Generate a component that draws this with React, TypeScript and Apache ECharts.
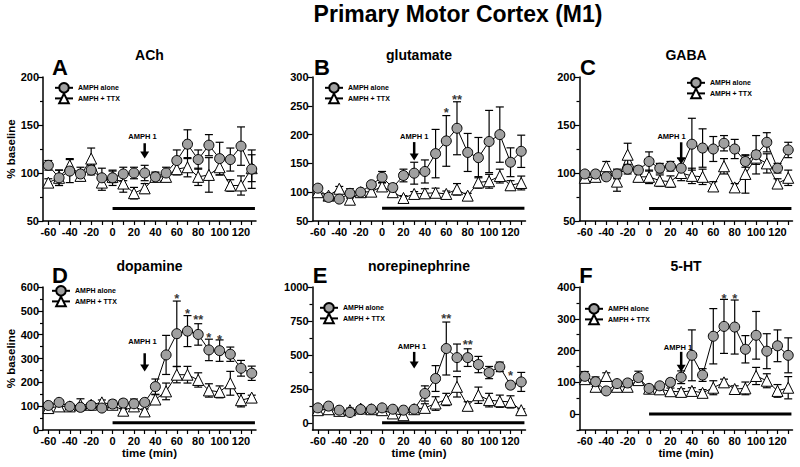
import React, { useEffect, useRef } from 'react';
import * as echarts from 'echarts';

const FONT = '"Liberation Sans", Arial, Helvetica, sans-serif';

const times = [-60, -50, -40, -30, -20, -10, 0, 10, 20, 30, 40, 50, 60, 70, 80, 90, 100, 110, 120, 130];
const xLabelValues = [-60, -40, -20, 0, 20, 40, 60, 80, 100, 120];
const xTickValues = [-60, -50, -40, -30, -20, -10, 0, 10, 20, 30, 40, 50, 60, 70, 80, 90, 100, 110, 120, 130];

// ACh
const achAlone = [108, 95, 102, 99, 103, 95, 95, 99, 100, 100, 96, 100, 113, 130, 114, 129, 115, 114, 128, 104];
const achAloneErr = [5, 8, 12, 7, 5, 10, 8, 7, 6, 8, 4, 6, 11, 15, 10, 11, 17, 12, 20, 20];
const achTtx = [90, 95, 108, 97, 115, 90, 96, 89, 79, 84, 96, 96, 104, 106, 96, 98, 106, 87, 87, 105];
const achTtxErr = [4, 8, 7, 5, 11, 8, 6, 9, 6, 5, 5, 5, 6, 10, 9, 18, 8, 6, 10, 14];

// glutamate
const gluAlone = [107, 91, 88, 98, 100, 113, 126, 108, 129, 133, 136, 167, 189, 211, 169, 160, 188, 200, 152, 171];
const gluAloneErr = [5, 4, 4, 8, 5, 5, 10, 6, 11, 19, 20, 42, 44, 46, 33, 35, 54, 48, 25, 28];
const gluTtx = [100, 94, 106, 87, 100, 101, 110, 100, 90, 97, 98, 99, 97, 105, 94, 117, 119, 128, 112, 116];
const gluTtxErr = [3, 3, 4, 8, 5, 5, 7, 5, 4, 4, 8, 8, 5, 10, 4, 10, 12, 12, 8, 12];

// GABA
const gabaAlone = [99, 99, 96, 99, 104, 103, 112, 105, 107, 105, 130, 126, 125, 131, 125, 112, 119, 132, 105, 124];
const gabaAloneErr = [3, 3, 3, 5, 5, 4, 10, 5, 5, 10, 27, 20, 13, 8, 10, 6, 20, 10, 5, 8];
const gabaTtx = [95, 96, 107, 91, 119, 96, 96, 92, 91, 100, 97, 96, 86, 107, 85, 99, 116, 110, 89, 95];
const gabaTtxErr = [3, 3, 5, 10, 12, 5, 7, 6, 6, 8, 8, 8, 5, 8, 4, 20, 7, 10, 5, 8];

// dopamine
const daAlone = [103, 116, 99, 95, 103, 92, 109, 113, 110, 116, 182, 315, 404, 415, 401, 336, 333, 318, 259, 238];
const daAloneErr = [10, 10, 10, 10, 10, 10, 15, 15, 20, 10, 32, 82, 137, 65, 45, 45, 45, 30, 33, 30];
const daTtx = [92, 99, 99, 106, 106, 116, 106, 81, 99, 78, 128, 162, 232, 232, 210, 166, 160, 196, 125, 136];
const daTtxErr = [10, 8, 8, 25, 8, 10, 10, 10, 10, 10, 20, 35, 34, 35, 30, 28, 25, 50, 28, 10];

// norepinephrine
const neAlone = [110, 123, 93, 76, 98, 100, 110, 100, 93, 100, 216, 326, 547, 480, 480, 429, 370, 412, 277, 301];
const neAloneErr = [20, 20, 20, 15, 15, 15, 20, 20, 20, 20, 56, 95, 195, 100, 65, 60, 45, 35, 20, 70];
const neTtx = [93, 100, 88, 93, 105, 100, 93, 69, 56, 100, 110, 142, 172, 265, 125, 203, 167, 159, 154, 93];
const neTtxErr = [15, 15, 15, 15, 15, 15, 15, 30, 30, 20, 30, 50, 45, 75, 30, 60, 50, 45, 45, 10];

// 5-HT
const htAlone = [119, 102, 73, 96, 98, 115, 81, 89, 100, 116, 185, 123, 245, 276, 274, 204, 248, 198, 215, 185];
const htAloneErr = [15, 15, 8, 10, 10, 20, 10, 10, 10, 20, 80, 20, 87, 85, 85, 43, 75, 55, 50, 55];
const htTtx = [110, 86, 120, 86, 86, 107, 80, 78, 72, 70, 73, 67, 83, 100, 79, 81, 120, 105, 73, 83];
const htTtxErr = [10, 10, 10, 10, 10, 10, 10, 10, 10, 10, 10, 10, 22, 10, 10, 20, 27, 22, 20, 35];

// significance marks [time, value, text]
const gluStars = [[60, 243, '*'], [70, 267, '**']];
const daStars = [[60, 565, '*'], [70, 503, '*'], [80, 475, '**'], [90, 401, '*'], [100, 391, '*']];
const neStars = [[60, 792, '**'], [80, 596, '**'], [120, 370, '*']];
const htStars = [[70, 374, '*'], [80, 374, '*']];

// treatment bar level (y value), from t=0 to t=133
const barLevels = [63, 72, 63, 30, 0, 0];
const barStart = 0;
const barEnd = 133;

// AMPH 1 annotation: [arrowTime, tipValue, topValue, textTime, textValue]
const amphNotes = [
  [30, 115, 131, 28, 138],
  [30, 155, 187, 30, 196],
  [30, 109, 132, 21, 138],
  [30, 245, 322, 28, 370],
  [30, 400, 522, 28, 559],
  [30, 133, 196, 27, 211],
];

const panelTitles = ['ACh', 'glutamate', 'GABA', 'dopamine', 'norepinephrine', '5-HT'];
const panelLetters = ['A', 'B', 'C', 'D', 'E', 'F'];

const yMin = [50, 50, 50, 0, -53, -50];
const yMax = [200, 300, 200, 600, 1000, 400];
const yLabelValues = [
  [50, 100, 150, 200],
  [50, 100, 150, 200, 250, 300],
  [50, 100, 150, 200],
  [0, 100, 200, 300, 400, 500, 600],
  [0, 250, 500, 750, 1000],
  [0, 100, 200, 300, 400],
];
const yMinorValues = [
  [75, 125, 175],
  [],
  [75, 125, 175],
  [50, 150, 250, 350, 450, 550],
  [125, 375, 625, 875],
  [-50, 50, 150, 250, 350],
];

const seriesData = [
  [achAlone, achAloneErr, achTtx, achTtxErr],
  [gluAlone, gluAloneErr, gluTtx, gluTtxErr],
  [gabaAlone, gabaAloneErr, gabaTtx, gabaTtxErr],
  [daAlone, daAloneErr, daTtx, daTtxErr],
  [neAlone, neAloneErr, neTtx, neTtxErr],
  [htAlone, htAloneErr, htTtx, htTtxErr],
];
const starsData = [[], gluStars, [], daStars, neStars, htStars];

// layout
const GRIDS = [
  { left: 43, top: 77, width: 213, height: 144 },
  { left: 312.5, top: 77, width: 213, height: 144 },
  { left: 579.5, top: 77, width: 213, height: 144 },
  { left: 43, top: 287, width: 213, height: 143 },
  { left: 312.5, top: 287, width: 213, height: 143 },
  { left: 579.5, top: 287, width: 213, height: 143 },
];
const LEGEND_POS = [
  { left: 54, top: 82 },
  { left: 324, top: 82 },
  { left: 686, top: 77 },
  { left: 51, top: 285 },
  { left: 319, top: 302 },
  { left: 584, top: 303 },
];
const LETTER_POS = [
  [60, 67], [322, 67], [588, 67], [60, 275], [320, 275], [586, 275],
];

function errorBars(i: number, vals: number[], errs: number[], z: number) {
  return {
    type: 'custom',
    xAxisIndex: i,
    yAxisIndex: i * 2,
    z,
    silent: true,
    itemStyle: { color: '#000' },
    data: times.map((t, k) => [t, vals[k], errs[k]]),
    encode: { x: 0, y: 1 },
    renderItem: (params: any, api: any) => {
      const x = api.value(0);
      const y = api.value(1);
      const e = api.value(2);
      const top = api.coord([x, y + e]);
      const bot = api.coord([x, y - e]);
      const hw = 4;
      const st = { stroke: '#000', lineWidth: 1.2 };
      return {
        type: 'group',
        children: [
          { type: 'line', shape: { x1: top[0], y1: top[1], x2: bot[0], y2: bot[1] }, style: st },
          { type: 'line', shape: { x1: top[0] - hw, y1: top[1], x2: top[0] + hw, y2: top[1] }, style: st },
          { type: 'line', shape: { x1: bot[0] - hw, y1: bot[1], x2: bot[0] + hw, y2: bot[1] }, style: st },
        ],
      };
    },
  };
}

export default function App() {
  const ref = useRef<HTMLDivElement>(null);
  useEffect(() => {
    if (!ref.current) return;
    const chart = echarts.init(ref.current, undefined, { renderer: 'svg' });

    const xAxes: any[] = [];
    const yAxes: any[] = [];
    const series: any[] = [];

    GRIDS.forEach((g, i) => {
      const bottomRow = i >= 3;
      xAxes.push({
        type: 'value',
        gridIndex: i,
        min: -65,
        max: 134,
        axisLine: { show: true, onZero: false, lineStyle: { color: '#000', width: 1.5 } },
        axisTick: { show: true, customValues: xTickValues, length: 4, lineStyle: { color: '#000', width: 1.2 } },
        axisLabel: { customValues: xLabelValues, color: '#000', fontWeight: 'bold', fontSize: 11, fontFamily: FONT, margin: 5 },
        splitLine: { show: false },
        name: bottomRow ? 'time (min)' : '',
        nameLocation: 'middle',
        nameGap: 17,
        nameTextStyle: { color: '#000', fontWeight: 'bold', fontSize: 11.5, fontFamily: FONT },
      });
      yAxes.push({
        type: 'value',
        gridIndex: i,
        min: yMin[i],
        max: yMax[i],
        position: 'left',
        axisLine: { show: true, onZero: false, lineStyle: { color: '#000', width: 1.5 } },
        axisTick: { show: true, customValues: yLabelValues[i], length: 5, lineStyle: { color: '#000', width: 1.2 } },
        axisLabel: {
          customValues: yLabelValues[i], color: '#000', fontWeight: 'bold', fontSize: 11, fontFamily: FONT, margin: 4,
          formatter: (v: number) => String(v),
        },
        splitLine: { show: false },
        name: i === 0 || i === 3 ? '% baseline' : '',
        nameLocation: 'middle',
        nameGap: 25,
        nameTextStyle: { color: '#000', fontWeight: 'bold', fontSize: 11.5, fontFamily: FONT },
      });
      yAxes.push({
        type: 'value',
        gridIndex: i,
        min: yMin[i],
        max: yMax[i],
        position: 'left',
        axisLine: { show: false, onZero: false },
        axisTick: { show: yMinorValues[i].length > 0, customValues: yMinorValues[i], length: 3, lineStyle: { color: '#000', width: 1.2 } },
        axisLabel: { show: false },
        splitLine: { show: false },
      });

      const [alone, aloneErr, ttx, ttxErr] = seriesData[i];

      // treatment bar
      series.push({
        type: 'line',
        xAxisIndex: i,
        yAxisIndex: i * 2,
        data: [[barStart, barLevels[i]], [barEnd, barLevels[i]]],
        symbol: 'none',
        lineStyle: { color: '#000', width: 3 },
        silent: true,
        z: 1,
      });

      series.push(errorBars(i, ttx, ttxErr, 2));
      series.push(errorBars(i, alone, aloneErr, 2));

      // annotation
      series.push({
        type: 'custom',
        xAxisIndex: i,
        yAxisIndex: i * 2,
        z: 2,
        silent: true,
        itemStyle: { color: '#000' },
        data: [amphNotes[i]],
        encode: { x: 0, y: 1 },
        renderItem: (params: any, api: any) => {
          const ax = api.value(0);
          const tip = api.coord([ax, api.value(1)]);
          const top = api.coord([ax, api.value(2)]);
          const txt = api.coord([api.value(3), api.value(4)]);
          const headH = 7;
          const headW = 4.5;
          return {
            type: 'group',
            children: [
              { type: 'line', shape: { x1: top[0], y1: top[1], x2: tip[0], y2: tip[1] - headH + 1 }, style: { stroke: '#000', lineWidth: 2.5 } },
              { type: 'polygon', shape: { points: [[tip[0] - headW, tip[1] - headH], [tip[0] + headW, tip[1] - headH], [tip[0], tip[1]]] }, style: { fill: '#000' } },
              {
                type: 'text', x: txt[0], y: txt[1],
                style: { text: 'AMPH 1', fill: '#000', fontSize: 7.5, fontWeight: 'bold', fontFamily: FONT, align: 'center', verticalAlign: 'middle' },
              },
            ],
          };
        },
      });

      series.push({
        name: 'AMPH + TTX',
        type: 'line',
        xAxisIndex: i,
        yAxisIndex: i * 2,
        data: times.map((t, k) => [t, ttx[k]]),
        symbol: 'triangle',
        symbolSize: 11,
        itemStyle: { color: '#fff', borderColor: '#000', borderWidth: 1 },
        lineStyle: { color: '#000', width: 1 },
        z: 3,
      });
      series.push({
        name: 'AMPH alone',
        type: 'line',
        xAxisIndex: i,
        yAxisIndex: i * 2,
        data: times.map((t, k) => [t, alone[k]]),
        symbol: 'circle',
        symbolSize: 10,
        itemStyle: { color: '#a0a0a0', borderColor: '#000', borderWidth: 1 },
        lineStyle: { color: '#000', width: 1 },
        z: 4,
      });

      if (starsData[i].length) {
        series.push({
          type: 'scatter',
          xAxisIndex: i,
          yAxisIndex: i * 2,
          z: 5,
          silent: true,
          symbolSize: 1,
          itemStyle: { color: 'rgba(0,0,0,0)' },
          data: starsData[i],
          label: {
            show: true,
            position: 'inside',
            offset: [0, 3],
            formatter: (p: any) => p.value[2],
            color: '#000',
            fontSize: 13,
            fontWeight: 'bold',
            fontFamily: FONT,
          },
          emphasis: { disabled: true },
        });
      }
    });

    const graphics: any[] = [
      {
        type: 'text', x: 458, y: 14,
        style: { text: 'Primary Motor Cortex (M1)', fill: '#000', fontSize: 23, fontWeight: 'bold', fontFamily: FONT, align: 'center', verticalAlign: 'middle' },
      },
    ];
    GRIDS.forEach((g, i) => {
      graphics.push({
        type: 'text', x: g.left + g.width / 2, y: i < 3 ? 55 : 266,
        style: { text: panelTitles[i], fill: '#000', fontSize: 14, fontWeight: 'bold', fontFamily: FONT, align: 'center', verticalAlign: 'middle' },
      });
      graphics.push({
        type: 'text', x: LETTER_POS[i][0], y: LETTER_POS[i][1],
        style: { text: panelLetters[i], fill: '#000', fontSize: 22, fontWeight: 'bold', fontFamily: FONT, align: 'center', verticalAlign: 'middle' },
      });
    });

    chart.setOption({
      animation: false,
      backgroundColor: '#fff',
      grid: GRIDS.map((g) => ({ ...g, containLabel: false })),
      xAxis: xAxes,
      yAxis: yAxes,
      legend: LEGEND_POS.map((p) => ({
        left: p.left,
        top: p.top,
        orient: 'vertical',
        itemWidth: 18,
        itemHeight: 12,
        itemGap: -1,
        padding: 0,
        selectedMode: false,
        data: ['AMPH alone', 'AMPH + TTX'],
        textStyle: { fontSize: 7, fontWeight: 'bold', color: '#000', fontFamily: FONT },
      })),
      graphic: graphics,
      series,
    });
    return () => chart.dispose();
  }, []);
  return <div ref={ref} style={{ position: 'absolute', left: 0, top: 0, width: 800, height: 467 }} />;
}
